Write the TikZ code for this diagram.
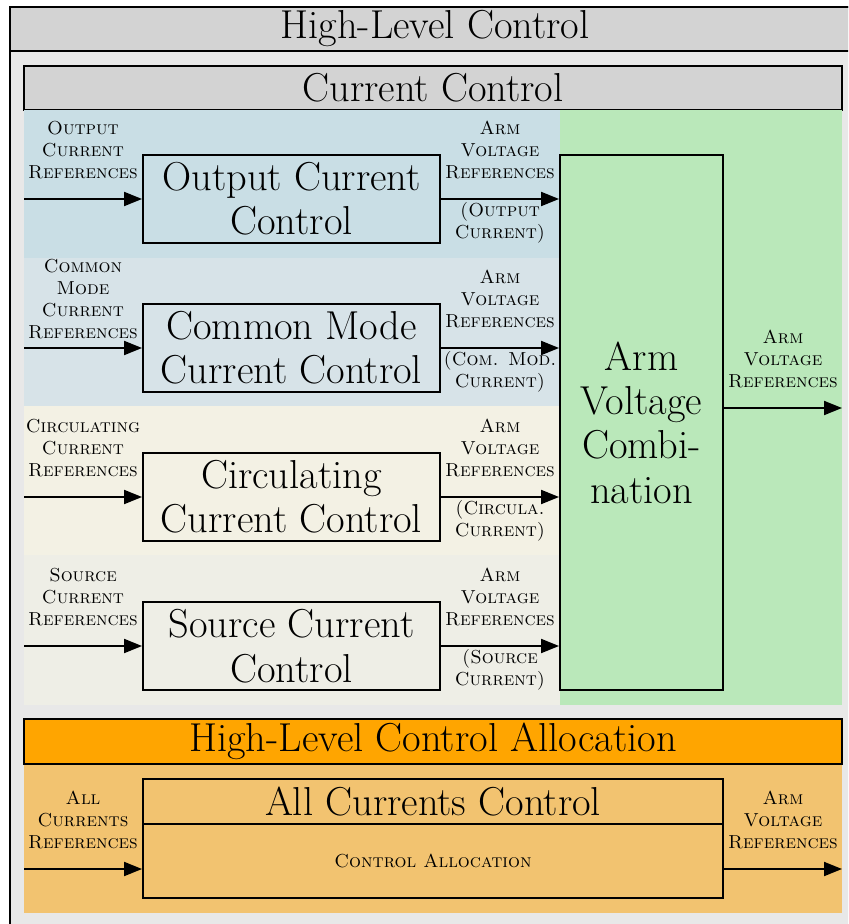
\documentclass[tikz,border=0pt]{standalone}
\usepackage{xcolor,tikz,fontspec}
\usetikzlibrary{arrows.meta,positioning,calc}
\definecolor{frame}{RGB}{232,232,232}
\definecolor{bar}{RGB}{211,211,211}
\definecolor{ice}{RGB}{201,222,229}
\definecolor{mist}{RGB}{215,227,232}
\definecolor{cream}{RGB}{243,241,228}
\definecolor{stone}{RGB}{238,238,230}
\definecolor{mint}{RGB}{186,232,186}
\definecolor{amber}{RGB}{255,165,0}
\definecolor{sand}{RGB}{242,195,112}
\newcommand{\bigfont}{\fontsize{20.2}{22.2}\selectfont}
\newcommand{\labfont}{\fontsize{9.4}{11}\selectfont\scshape}
\tikzset{
  arr/.style={-{Triangle[length=9pt,width=7pt]},line width=0.95pt},
  blk/.style={draw,line width=0.95pt,align=center,inner sep=0pt,font=\bigfont},
  titlebar/.style={draw,line width=0.95pt,fill=bar,inner sep=0pt,font=\bigfont},
  lab/.style={font=\labfont,align=center,inner sep=0pt},
  labup/.style={lab,yshift=24.5pt},
  labdn/.style={lab,yshift=-12pt}
}

\begin{document}
\begin{tikzpicture}[x=0.5pt,y=-0.5pt]
  \clip (0,0) rectangle (848,924);
  \fill[white] (0,0) rectangle (848,924);
  % outer frame and title bars
  \draw[line width=0.95pt,fill=frame] (10,7) rectangle (880,950);
  \node[titlebar,minimum width=425pt,minimum height=22pt] (hlc) at (435,29) {High-Level Control};
  \node[titlebar,minimum width=409pt,minimum height=22pt] (cc) at (433,88) {Current Control};
  % coloured bands
  \fill[ice] (24,110) rectangle (560,258);
  \fill[mist] (24,258) rectangle (560,406);
  \fill[cream] (24,406) rectangle (560,555);
  \fill[stone] (24,555) rectangle (560,705);
  \fill[mint] (560,110) rectangle (842,705);
  \fill[sand] (24,764) rectangle (842,913);
  \node[titlebar,fill=amber,minimum width=409pt,minimum height=22.5pt] (hca) at (433,741.5) {High-Level Control Allocation};
  % blocks
  \node[blk,minimum width=148.5pt,minimum height=44pt] (occ) at (291.5,199) {Output Current\\Control};
  \node[blk,minimum width=148.5pt,minimum height=44pt] (cmc) at (291.5,348) {Common Mode\\Current Control};
  \node[blk,minimum width=148.5pt,minimum height=44pt] (crc) at (291.5,497) {Circulating\\Current Control};
  \node[blk,minimum width=148.5pt,minimum height=44pt] (scc) at (291.5,646) {Source Current\\Control};
  \node[blk,minimum width=81.5pt,minimum height=267.5pt] (avc) at (641.5,422.5) {Arm\\Voltage\\Combi-\\nation};
  \node[blk,minimum width=290pt,minimum height=22.5pt] (acc) at (433,801.5) {All Currents Control};
  \node[blk,font=\labfont,minimum width=290pt,minimum height=37pt,below=-0.95pt of acc] (cal) {Control Allocation};
  % inputs
  \coordinate (in1) at (24,199);
  \coordinate (in2) at (24,348);
  \coordinate (in3) at (24,497);
  \coordinate (in4) at (24,646);
  \coordinate (in5) at (24,869);
  \coordinate (out) at (842,408);
  \coordinate (out5) at (842,869);
  \draw[arr] (in1) -- node[labup]{Output\\Current\\References} (occ);
  \draw[arr] (in2) -- node[labup]{Common\\Mode\\Current\\References} (cmc);
  \draw[arr] (in3) -- node[labup]{Circulating\\Current\\References} (crc);
  \draw[arr] (in4) -- node[labup]{Source\\Current\\References} (scc);
  % to the combination
  \draw[arr] (occ) -- node[labup]{Arm\\Voltage\\References} node[labdn]{(Output\\Current)} (occ -| avc.west);
  \draw[arr] (cmc) -- node[labup]{Arm\\Voltage\\References} node[labdn]{(Com. Mod.\\Current)} (cmc -| avc.west);
  \draw[arr] (crc) -- node[labup]{Arm\\Voltage\\References} node[labdn]{(Circula.\\Current)} (crc -| avc.west);
  \draw[arr] (scc) -- node[labup]{Arm\\Voltage\\References} node[labdn]{(Source\\Current)} (scc -| avc.west);
  \draw[arr] (avc.east |- out) -- node[labup]{Arm\\Voltage\\References} (out);
  % allocation
  \draw[arr] (in5) -- node[labup]{All\\Currents\\References} (in5 -| cal.west);
  \draw[arr] (cal.east |- out5) -- node[labup]{Arm\\Voltage\\References} (out5);
\end{tikzpicture}
\end{document}
